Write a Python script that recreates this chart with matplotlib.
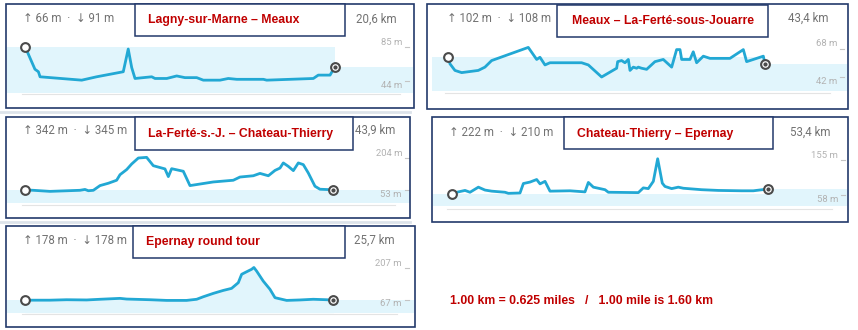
import matplotlib
matplotlib.use('Agg')
import matplotlib.pyplot as plt
import matplotlib.transforms as mtransforms
from matplotlib.patches import Rectangle

# elevation profiles, distance in km / altitude in m
p1_km = [0, 0.66, 0.89, 1.0, 3.77, 4.76, 6.53, 6.64, 6.86, 7.09, 7.31, 8.42, 8.64, 9.42,
         10.08, 10.63, 11.41, 11.85, 12.96, 13.51, 14.07, 15.84, 16.06, 19.16, 19.49,
         20.05, 20.27, 20.6]
p1_m = [85, 58, 55, 49, 45, 49, 55, 64, 82, 60, 47, 49, 47, 47,
        50, 48, 48, 45, 45, 47, 46, 46, 45, 47, 51,
        51, 51, 61]

p2_km = [0, 0.23, 0.91, 1.83, 4.11, 5.02, 5.94, 10.96, 12.11, 12.56, 13.25, 13.93, 18.27,
         19.19, 21.01, 23.07, 23.21, 23.75, 24.21, 24.67, 24.90, 25.35, 25.81, 26.04,
         26.49, 27.18, 28.32, 29.46, 30.61, 31.29, 31.75, 31.98, 33.12, 33.57, 34.03,
         34.95, 35.86, 38.60, 40.43, 40.88, 43.17, 43.4]
p2_m = [60, 54, 48, 46, 48, 51, 57, 69, 58, 60, 53, 55, 55,
        53, 42, 50, 56, 57, 55, 58, 48, 51, 50, 51,
        50, 49, 56, 58, 51, 67, 67, 58, 58, 65, 55,
        61, 59, 59, 67, 56, 61, 54]

p3_km = [0, 1.19, 3.56, 7.83, 8.54, 9.02, 9.73, 10.68, 11.87, 13.05, 13.53, 14.48, 15.19,
         16.14, 17.32, 18.27, 19.93, 20.41, 20.88, 22.54, 23.49, 26.81, 29.66, 30.61,
         32.51, 33.46, 34.65, 35.60, 36.31, 36.78, 37.49, 38.21, 38.92, 39.63, 40.34,
         41.29, 42.0, 43.43, 43.9]
p3_m = [55, 53, 48, 53, 57, 51, 53, 75, 86, 100, 126, 150, 176,
        204, 207, 168, 153, 117, 154, 142, 75, 92, 100, 115,
        121, 132, 121, 146, 157, 181, 165, 145, 181, 173, 134,
        72, 58, 56, 53]

p4_km = [0, 1.12, 2.25, 3.09, 4.50, 5.62, 6.75, 8.99, 9.56, 11.52, 12.09, 13.21, 14.33,
         14.90, 15.74, 16.58, 19.95, 22.48, 23.05, 23.89, 25.86, 26.42, 31.48, 32.32,
         33.16, 34.01, 34.74, 35.52, 35.97, 37.10, 38.22, 39.07, 42.16, 44.97, 48.90,
         50.87, 53.4]
p4_m = [61, 66, 70, 65, 79, 71, 68, 65, 62, 63, 89, 93, 100,
        88, 95, 68, 69, 66, 92, 79, 72, 65, 64, 77,
        75, 95, 157, 90, 81, 75, 79, 76, 72, 70, 69,
        69, 74]

p5_km = [0, 2.08, 3.47, 5.14, 6.25, 7.92, 8.47, 10.42, 11.81, 13.47, 14.31, 14.86, 15.70,
         16.53, 17.22, 17.78, 18.06, 18.47, 18.89, 19.08, 19.31, 19.86, 20.42, 20.84,
         21.81, 22.92, 24.03, 25.14, 25.7]
p5_m = [64, 64, 66, 65, 68, 72, 69, 66, 63, 63, 68, 79, 94,
        107, 116, 141, 178, 189, 200, 208, 192, 148, 112, 75,
        63, 65, 68, 66, 64]

titles = ['Lagny-sur-Marne – Meaux', 'Meaux – La-Ferté-sous-Jouarre',
          'La-Ferté-s.-J. – Chateau-Thierry', 'Chateau-Thierry – Epernay',
          'Epernay round tour']
climbs = [66, 102, 342, 222, 178]
descents = [91, 108, 345, 210, 178]
dist_km = ['20,6', '43,4', '43,9', '53,4', '25,7']
top_lbl = [85, 68, 204, 155, 207]
low_lbl = [44, 42, 53, 58, 67]
note = '1.00 km = 0.625 miles   /   1.00 mile is 1.60 km'

profiles = [(p1_km, p1_m), (p2_km, p2_m), (p3_km, p3_m), (p4_km, p4_m), (p5_km, p5_m)]

# screen layout of each card (pixels, origin top-left)
frames = [(6, 4, 414, 108), (427, 4, 848, 109), (6, 117, 410, 218),
          (432, 117, 848, 222), (6, 226, 415, 327)]
title_boxes = [(135, 4, 345, 36), (557, 5, 768, 37), (135, 117, 353, 150),
               (564, 117, 773, 149), (133, 226, 345, 258)]
title_x = [148, 572, 148, 577, 146]
plot_boxes = [(7, 40, 413, 92.7), (432, 40, 847, 91), (7, 152, 410, 203),
              (433, 152, 847, 206.3), (7, 262, 414, 312.7)]
ends_px = [(25, 335), (448.3, 765), (25, 333.3), (451.7, 768.3), (25, 333.3)]
ticks_py = [(46.5, 81), (48.5, 77), (158, 190.3), (159.5, 194.8), (267.7, 299.5)]
header_xy = [(23, 19), (447, 18), (23, 130), (449, 132), (23, 240)]
km_right = [397, 829, 395, 831, 395]
lbl_right = [402, 837, 402, 838, 402]
rules = [(22, 400, 94.3), (445, 830, 93.3), (22, 395, 205.3), (447, 832, 208.7), (22, 397, 314.3)]

W, H = 858, 330
LINE = '#22a8d4'
BAND = '#e1f5fc'
NAVY = '#23396b'
RED = '#c00000'
NARROW = ['Liberation Sans Narrow', 'Liberation Sans', 'DejaVu Sans']
UI = ['Roboto', 'DejaVu Sans']

fig = plt.figure(figsize=(W / 100, H / 100), dpi=100)
canvas = fig.add_axes([0, 0, 1, 1], zorder=0)
canvas.set_xlim(0, W)
canvas.set_ylim(H, 0)
canvas.axis('off')

# faint separators between the screenshot rows
for y in (112, 222):
    canvas.plot([0, 410], [y, y], color='#dde3ea', lw=2, zorder=1)

for i, (km, m) in enumerate(profiles):
    x0, y0, x1, y1 = plot_boxes[i]
    sx, ex = ends_px[i]
    ty, by = ticks_py[i]
    total = km[-1]
    k = total / (ex - sx)
    s = (low_lbl[i] - top_lbl[i]) / (by - ty)
    ax = fig.add_axes([x0 / W, 1 - y1 / H, (x1 - x0) / W, (y1 - y0) / H], zorder=2)
    ax.set_xlim((x0 - sx) * k, total + (x1 - ex) * k)
    ax.set_ylim(top_lbl[i] + (y1 - ty) * s, top_lbl[i] + (y0 - ty) * s)
    ax.axis('off')
    ax.patch.set_alpha(0)
    lo, hi = ax.get_xlim()
    base = ax.get_ylim()[0]

    # light band behind the profile
    ax.fill_between([lo, total], m[0], base, color=BAND, lw=0, zorder=1)
    ax.fill_between([total, hi], m[-1], base, color=BAND, lw=0, zorder=1)
    if i == 4:
        ax.fill_between(km, m, base, color=BAND, lw=0, zorder=1)

    ax.plot(km, m, color=LINE, lw=2.0, solid_joinstyle='round', zorder=3)
    ax.plot(km[0], m[0], 'o', ms=6.3, mfc='white', mec='#4a4a4a', mew=1.5, zorder=4)
    ax.plot(km[-1], m[-1], 'o', ms=6.3, mfc='white', mec='#4a4a4a', mew=1.5, zorder=4)
    ax.plot(km[-1], m[-1], 'o', ms=2, color='#4a4a4a', zorder=5)

    # altitude scale labels on the right
    tr = mtransforms.blended_transform_factory(canvas.transData, ax.transData)
    xr = lbl_right[i]
    ax.text(xr, top_lbl[i], f'{top_lbl[i]} m', transform=tr, ha='right', va='bottom',
            fontsize=6.8, color='#b2b2b2', family=UI, zorder=4)
    ax.text(xr, low_lbl[i], f'{low_lbl[i]} m', transform=tr, ha='right', va='top',
            fontsize=6.8, color='#b2b2b2', family=UI, zorder=4)
    ax.plot([xr + 3, xr + 7], [top_lbl[i], top_lbl[i]], transform=tr, color='#c4c4c4',
            lw=0.8, clip_on=False)
    ax.plot([xr + 3, xr + 7], [low_lbl[i], low_lbl[i]], transform=tr, color='#c4c4c4',
            lw=0.8, clip_on=False)

    # card contents drawn on the full-size canvas
    fx0, fy0, fx1, fy1 = frames[i]
    rx0, rx1, ry = rules[i]
    canvas.plot([rx0, rx1], [ry, ry], color='#e4e4e4', lw=0.8, zorder=1)
    hx, hy = header_xy[i]
    canvas.text(hx, hy, f'↑ {climbs[i]} m  ·  ↓ {descents[i]} m',
                ha='left', va='center', fontsize=8.3, color='#727272', family=UI, zorder=1)
    canvas.text(km_right[i], hy, f'{dist_km[i]} km', ha='right', va='center',
                fontsize=8.3, color='#727272', family=UI, zorder=1)

    bx0, by0, bx1, by1 = title_boxes[i]
    canvas.add_patch(Rectangle((bx0, by0), bx1 - bx0, by1 - by0, facecolor='white',
                               edgecolor=NAVY, lw=1.1, zorder=6))
    canvas.text(title_x[i], (by0 + by1) / 2 + 0.5, titles[i], ha='left', va='center',
                fontsize=8.8, fontweight='bold', color=RED, family=NARROW, zorder=7)

    canvas.add_patch(Rectangle((fx0, fy0), fx1 - fx0, fy1 - fy0, facecolor='none',
                               edgecolor=NAVY, lw=1.2, zorder=5))

canvas.text(450, 301.5, note, ha='left', va='center', fontsize=8.8, fontweight='bold',
            color=RED, family=NARROW, zorder=7)

# canvas sits above the profile axes for boxes and frames
canvas.set_zorder(3)
canvas.patch.set_alpha(0)

fig.savefig('out.png', dpi=100, facecolor='white')
